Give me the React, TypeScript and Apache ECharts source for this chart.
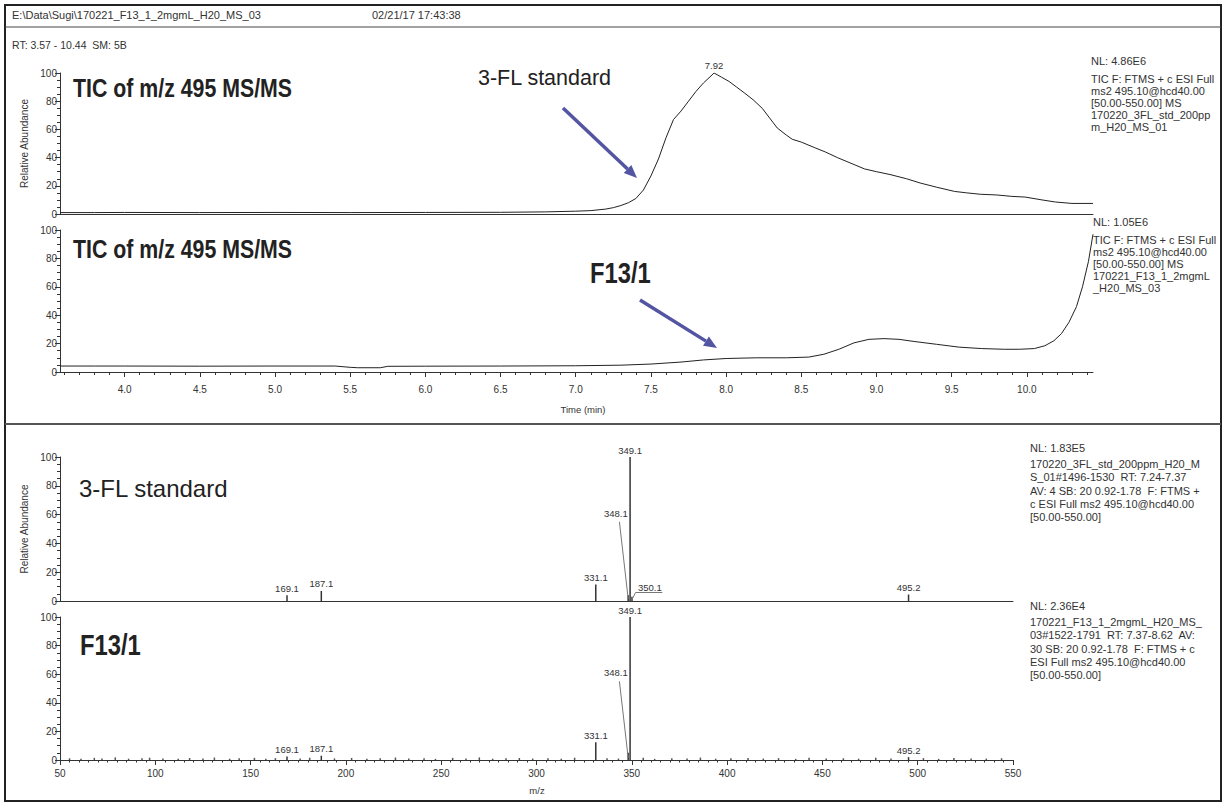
import React, { useEffect, useRef } from "react";
import * as echarts from "echarts";

// TIC of m/z 495 MS/MS, 3-FL standard (retention time in min, relative abundance in %)
const stdTime = [3.57, 3.8, 4.0, 4.5, 5.0, 5.5, 6.0, 6.5, 6.8, 7.0, 7.1, 7.2, 7.25, 7.3, 7.35, 7.4, 7.45, 7.5, 7.55, 7.6, 7.65, 7.7, 7.75, 7.8, 7.85, 7.92, 7.97, 8.02, 8.07, 8.12, 8.18, 8.24, 8.29, 8.34, 8.4, 8.44, 8.5, 8.59, 8.66, 8.74, 8.83, 8.92, 9.0, 9.09, 9.2, 9.29, 9.4, 9.52, 9.6, 9.69, 9.8, 9.9, 9.99, 10.1, 10.19, 10.3, 10.44];
const stdAbund = [1.0, 1.0, 1.1, 1.0, 1.1, 1.0, 1.1, 1.2, 1.5, 2.0, 2.4, 3.5, 4.5, 6.0, 8, 11, 17, 27, 39, 54, 67, 73, 80, 87, 93, 100, 97, 94, 90, 86, 81, 75, 68, 61, 56, 53, 51, 47, 44, 40, 36, 32, 30, 28, 25, 22, 19, 16, 15, 14, 13.5, 12.5, 12, 10, 8.5, 7.5, 7.5];
const stdApex = [7.92, 100];

// TIC of m/z 495 MS/MS, fraction F13/1
const f13Time = [3.57, 3.8, 4.0, 4.5, 5.0, 5.4, 5.5, 5.55, 5.7, 5.75, 6.0, 6.5, 7.0, 7.3, 7.5, 7.7, 7.85, 8.0, 8.2, 8.4, 8.55, 8.65, 8.75, 8.85, 8.95, 9.05, 9.15, 9.25, 9.4, 9.55, 9.7, 9.85, 9.95, 10.05, 10.12, 10.18, 10.23, 10.28, 10.33, 10.37, 10.41, 10.44];
const f13Abund = [4.2, 4.2, 4.2, 4.1, 4.2, 4.2, 3.3, 3.0, 3.0, 4.0, 4.1, 4.2, 4.4, 4.8, 5.6, 7.0, 8.5, 9.5, 10, 10, 10.5, 12.5, 16, 20.5, 23, 23.5, 23, 21.5, 19.5, 17.5, 16.5, 16, 16, 16.5, 18.5, 22, 27, 35, 46, 60, 78, 97];

// MS/MS spectrum, 3-FL standard (m/z, relative abundance %)
const stdMz = [169.1, 187.1, 331.1, 348.1, 349.1, 350.1, 495.2];
const stdInt = [4, 7, 11.5, 4, 100, 3, 4.5];

// MS/MS spectrum, F13/1
const f13Mz = [169.1, 187.1, 331.1, 348.1, 349.1, 495.2];
const f13Int = [2.5, 3, 12.5, 5, 100, 2];
const f13NoiseMz = [55, 61, 68, 72, 79, 86, 93, 97, 104, 112, 118, 125, 131, 139, 144, 152, 158, 163, 176, 181, 194, 203, 211, 218, 226, 233, 241, 247, 256, 263, 270, 277, 284, 291, 298, 306, 313, 320, 337, 343, 356, 362, 371, 379, 386, 394, 402, 411, 419, 427, 436, 443, 452, 461, 469, 478, 486, 503, 511, 519, 528, 536, 544];
const f13NoiseInt = [1.2, 0.8, 1.5, 1.0, 1.8, 0.9, 1.3, 1.6, 1.1, 0.8, 1.4, 1.0, 1.7, 0.9, 1.2, 1.5, 0.8, 1.3, 1.0, 1.6, 1.1, 1.4, 0.9, 1.2, 1.7, 1.0, 1.3, 0.8, 1.5, 1.1, 1.8, 0.9, 1.2, 1.4, 1.0, 1.3, 0.9, 1.6, 1.2, 1.0, 1.5, 0.8, 1.3, 1.1, 1.7, 0.9, 1.2, 1.4, 1.0, 1.3, 0.8, 1.6, 1.1, 1.2, 0.9, 1.5, 1.0, 1.3, 0.8, 1.4, 1.1, 1.0, 1.2];

// Peaks whose labels are drawn away from the stick, with a leader line
const leaderPeakIndexStd = [3, 5]; // 348.1, 350.1
const leaderPeakIndexF13 = [3]; // 348.1

// Axis ticks
const rtMajorTicks = [4.0, 4.5, 5.0, 5.5, 6.0, 6.5, 7.0, 7.5, 8.0, 8.5, 9.0, 9.5, 10.0];
const rtMin = 3.57;
const rtMax = 10.44;
const mzMin = 50;
const mzMax = 550;

const FONT = '"Liberation Sans", Arial, Helvetica, sans-serif';
const INK = "#333";
const ARROW = "#5355a3";

const rtMinorTicks: number[] = [];
for (let i = 36; i <= 104; i++) {
  if (i % 5 !== 0) rtMinorTicks.push(i / 10);
}

function yAxis(gridIndex: number, name?: string) {
  return {
    type: "value",
    gridIndex,
    min: 0,
    max: 100,
    interval: 20,
    axisLine: { show: true, lineStyle: { color: INK, width: 1 } },
    axisTick: { show: true, length: 5, lineStyle: { color: INK } },
    minorTick: { show: true, splitNumber: 4, length: 3, lineStyle: { color: INK } },
    splitLine: { show: false },
    axisLabel: { fontSize: 10, color: INK, margin: 3, fontFamily: FONT },
    name: name || "",
    nameLocation: "middle",
    nameGap: 31,
    nameRotate: 90,
    nameTextStyle: { fontSize: 10, color: INK, fontFamily: FONT },
  };
}

function text(x: number, y: number, str: string, size: number, extra: any = {}) {
  return {
    type: "text",
    x,
    y,
    silent: true,
    ...(extra.scaleX ? { scaleX: extra.scaleX } : {}),
    style: {
      text: str,
      fontSize: size,
      fontFamily: FONT,
      fontWeight: extra.bold ? "bold" : "normal",
      fill: extra.color || INK,
      align: extra.align || "left",
      verticalAlign: "middle",
      textAlign: extra.align || "left",
      textVerticalAlign: "middle",
      lineHeight: extra.lineHeight || size * 1.2,
    },
  };
}

function arrow(x1: number, y1: number, x2: number, y2: number) {
  const a = Math.atan2(y2 - y1, x2 - x1);
  const L = 13;
  const W = 5.5;
  const bx = x2 - L * Math.cos(a);
  const by = y2 - L * Math.sin(a);
  return [
    {
      type: "line",
      silent: true,
      shape: { x1, y1, x2: bx, y2: by },
      style: { stroke: ARROW, lineWidth: 3.5 },
    },
    {
      type: "polygon",
      silent: true,
      shape: {
        points: [
          [x2, y2],
          [bx - W * Math.sin(a), by + W * Math.cos(a)],
          [bx + W * Math.sin(a), by - W * Math.cos(a)],
        ],
      },
      style: { fill: ARROW },
    },
  ];
}

function spectrumData(mz: number[], inten: number[], hideLabel: number[]) {
  return mz.map((m, i) => ({
    value: [m, inten[i]],
    label: { show: !hideLabel.includes(i) },
  }));
}

export default function App() {
  const ref = useRef<HTMLDivElement>(null);

  useEffect(() => {
    if (!ref.current) return;
    const chart = echarts.init(ref.current, null, { renderer: "svg" });

    const peakLabel = {
      position: "top",
      distance: 2,
      fontSize: 9.5,
      color: INK,
      fontFamily: FONT,
      formatter: (p: any) => p.value[0].toFixed(1),
    };

    const leaderStyle = { color: "#777", width: 1, type: "solid" };
    const leaderLabel = {
      show: true, position: "inside", fontSize: 9.5, color: INK, fontFamily: FONT,
      formatter: (p: any) => p.name,
    };

    const option: any = {
      animation: false,
      backgroundColor: "#fff",
      grid: [
        { left: 60, top: 73, width: 1033, height: 141 },
        { left: 60, top: 230, width: 1033, height: 142 },
        { left: 60, top: 457, width: 953, height: 144 },
        { left: 60, top: 617, width: 953, height: 143 },
      ],
      xAxis: [
        {
          type: "value", gridIndex: 0, min: rtMin, max: rtMax,
          axisLine: { show: true, lineStyle: { color: INK } },
          axisTick: { show: false }, axisLabel: { show: false }, splitLine: { show: false },
        },
        {
          type: "value", gridIndex: 1, min: rtMin, max: rtMax,
          axisLine: { show: true, lineStyle: { color: INK } },
          axisTick: { show: true, length: 5, customValues: rtMajorTicks, lineStyle: { color: INK } },
          axisLabel: {
            customValues: rtMajorTicks, fontSize: 10, color: INK, fontFamily: FONT, margin: 12,
            formatter: (v: number) => v.toFixed(1),
          },
          splitLine: { show: false },
        },
        {
          type: "value", gridIndex: 2, min: mzMin, max: mzMax,
          axisLine: { show: true, lineStyle: { color: INK } },
          axisTick: { show: false }, axisLabel: { show: false }, splitLine: { show: false },
        },
        {
          type: "value", gridIndex: 3, min: mzMin, max: mzMax, interval: 50,
          axisLine: { show: true, lineStyle: { color: INK } },
          axisTick: { show: true, length: 5, lineStyle: { color: INK } },
          minorTick: { show: true, splitNumber: 10, length: 2.5, lineStyle: { color: INK } },
          axisLabel: { fontSize: 10, color: INK, fontFamily: FONT, margin: 8 },
          splitLine: { show: false },
        },
        {
          // minor retention-time ticks
          type: "value", gridIndex: 1, min: rtMin, max: rtMax, position: "bottom",
          axisLine: { show: false },
          axisTick: { show: true, length: 3, customValues: rtMinorTicks, lineStyle: { color: INK } },
          axisLabel: { show: false }, splitLine: { show: false },
        },
      ],
      yAxis: [
        yAxis(0, "Relative Abundance"),
        yAxis(1),
        yAxis(2, "Relative Abundance"),
        yAxis(3),
      ],
      series: [
        {
          type: "line", xAxisIndex: 0, yAxisIndex: 0, silent: true,
          showSymbol: false, symbol: "none",
          lineStyle: { color: "#222", width: 1 },
          data: stdTime.map((t, i) => [t, stdAbund[i]]),
        },
        {
          type: "scatter", xAxisIndex: 0, yAxisIndex: 0, silent: true,
          symbolSize: 0, itemStyle: { opacity: 1 },
          data: [stdApex],
          label: {
            show: true, position: "top", distance: 3, fontSize: 9.5, color: INK, fontFamily: FONT,
            formatter: (p: any) => p.value[0].toFixed(2),
          },
        },
        {
          type: "line", xAxisIndex: 1, yAxisIndex: 1, silent: true,
          showSymbol: false, symbol: "none",
          lineStyle: { color: "#222", width: 1 },
          data: f13Time.map((t, i) => [t, f13Abund[i]]),
        },
        {
          type: "bar", xAxisIndex: 2, yAxisIndex: 2, silent: true,
          barWidth: 1.5,
          itemStyle: { color: "#333" },
          label: peakLabel,
          data: spectrumData(stdMz, stdInt, leaderPeakIndexStd),
          markLine: {
            silent: true, symbol: ["none", "none"], label: { show: false },
            lineStyle: leaderStyle,
            data: [
              [{ coord: [343.5, 55] }, { coord: [stdMz[3], 1.5] }],
              [{ coord: [stdMz[5], 1] }, { coord: [352, 6] }],
              [{ coord: [352, 6] }, { coord: [366, 6] }],
            ],
          },
        },
        {
          type: "scatter", xAxisIndex: 2, yAxisIndex: 2, silent: true, symbolSize: 0,
          itemStyle: { opacity: 1 },
          label: leaderLabel,
          data: [
            { name: stdMz[3].toFixed(1), value: [341.6, 61] },
            { name: stdMz[5].toFixed(1), value: [359.5, 9.5] },
          ],
        },
        {
          type: "bar", xAxisIndex: 3, yAxisIndex: 3, silent: true,
          barWidth: 1.5,
          itemStyle: { color: "#333" },
          label: peakLabel,
          data: [
            ...spectrumData(f13Mz, f13Int, leaderPeakIndexF13),
            ...f13NoiseMz.map((m, i) => ({ value: [m, f13NoiseInt[i]], label: { show: false }, itemStyle: { color: "#555" } })),
          ],
          markLine: {
            silent: true, symbol: ["none", "none"], label: { show: false },
            lineStyle: leaderStyle,
            data: [[{ coord: [343.5, 55] }, { coord: [f13Mz[3], 1.5] }]],
          },
        },
        {
          type: "scatter", xAxisIndex: 3, yAxisIndex: 3, silent: true, symbolSize: 0,
          itemStyle: { opacity: 1 },
          label: leaderLabel,
          data: [{ name: f13Mz[3].toFixed(1), value: [341.6, 61.5] }],
        },
      ],
      graphic: {
        elements: [
          { type: "rect", silent: true, shape: { x: 5, y: 5, width: 1216, height: 796 }, style: { fill: "none", stroke: "#222", lineWidth: 2 } },
          { type: "line", silent: true, shape: { x1: 5, y1: 27, x2: 1221, y2: 27 }, style: { stroke: "#444", lineWidth: 1 } },
          { type: "line", silent: true, shape: { x1: 5, y1: 424, x2: 1221, y2: 424 }, style: { stroke: "#555", lineWidth: 2 } },
          text(12, 15, "E:\\Data\\Sugi\\170221_F13_1_2mgmL_H20_MS_03", 11),
          text(372, 15, "02/21/17 17:43:38", 11),
          text(12, 45, "RT: 3.57 - 10.44  SM: 5B", 10.5),

          text(73, 88, "TIC of m/z 495 MS/MS", 26, { bold: true, scaleX: 0.82, color: "#222" }),
          text(73, 249, "TIC of m/z 495 MS/MS", 26, { bold: true, scaleX: 0.82, color: "#222" }),
          text(478, 78, "3-FL standard", 21.5, { color: "#222" }),
          text(590, 273, "F13/1", 29, { bold: true, scaleX: 0.82, color: "#222" }),
          text(79, 488, "3-FL standard", 24, { color: "#222" }),
          text(80, 645, "F13/1", 29, { bold: true, scaleX: 0.82, color: "#222" }),
          ...arrow(563, 108, 637, 178),
          ...arrow(640, 300, 717, 348),

          text(583, 409, "Time (min)", 9.5, { align: "center" }),
          text(537, 790, "m/z", 9.5, { align: "center" }),

          text(1091, 61, "NL: 4.86E6", 11),
          text(1091, 103, "TIC F: FTMS + c ESI Full\nms2 495.10@hcd40.00\n[50.00-550.00] MS\n170220_3FL_std_200pp\nm_H20_MS_01", 11, { lineHeight: 12 }),
          text(1093, 222, "NL: 1.05E6", 11),
          text(1093, 264, "TIC F: FTMS + c ESI Full\nms2 495.10@hcd40.00\n[50.00-550.00] MS\n170221_F13_1_2mgmL\n_H20_MS_03", 11, { lineHeight: 12 }),
          text(1030, 448, "NL: 1.83E5", 11),
          text(1030, 490.5, "170220_3FL_std_200ppm_H20_M\nS_01#1496-1530  RT: 7.24-7.37\nAV: 4 SB: 20 0.92-1.78  F: FTMS +\nc ESI Full ms2 495.10@hcd40.00\n[50.00-550.00]", 11, { lineHeight: 13.2 }),
          text(1030, 606, "NL: 2.36E4", 11),
          text(1030, 648.5, "170221_F13_1_2mgmL_H20_MS_\n03#1522-1791  RT: 7.37-8.62  AV:\n30 SB: 20 0.92-1.78  F: FTMS + c\nESI Full ms2 495.10@hcd40.00\n[50.00-550.00]", 11, { lineHeight: 13.2 }),
        ],
      },
    };

    chart.setOption(option);
    return () => chart.dispose();
  }, []);

  return (
    <div
      ref={ref}
      style={{ position: "fixed", left: 0, top: 0, width: 1225, height: 805, background: "#fff" }}
    />
  );
}
